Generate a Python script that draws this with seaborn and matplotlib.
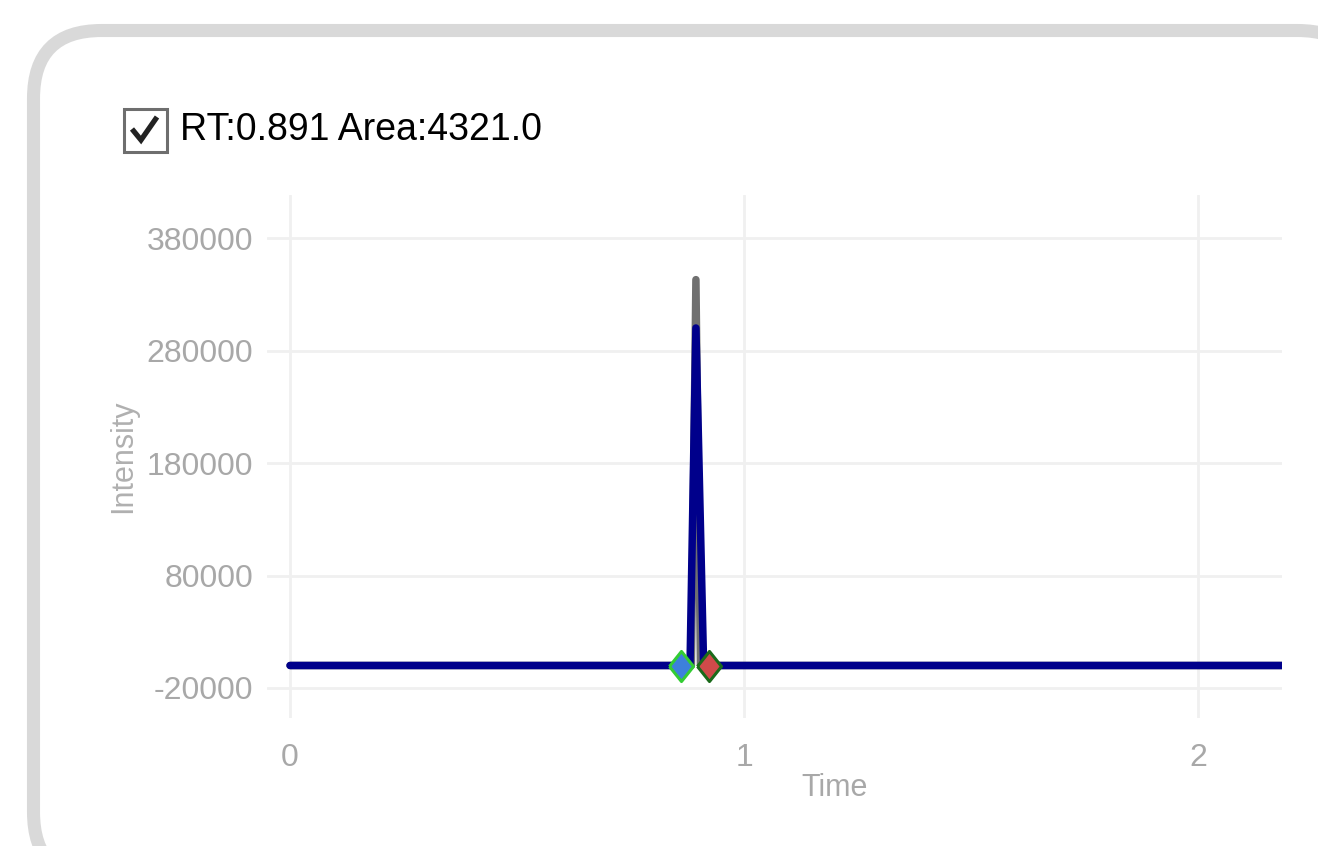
import matplotlib
matplotlib.use("Agg")
import matplotlib.pyplot as plt
import seaborn as sns
import pandas as pd
from matplotlib.patches import FancyBboxPatch, Rectangle
from matplotlib.lines import Line2D

# raw trace (grey) and smoothed trace (blue)
raw_time = [0.0, 0.884, 0.894, 0.904, 2.185]
raw_intensity = [0, 0, 343000, 0, 0]
smooth_time = [0.0, 0.881, 0.894, 0.911, 2.185]
smooth_intensity = [0, 0, 300000, 0, 0]

# peak boundaries
start_time = [0.861]
end_time = [0.923]
boundary_intensity = [0]

x_ticks = [0, 1, 2]
y_ticks = [-20000, 80000, 180000, 280000, 380000]
title = "RT:0.891 Area:4321.0"

raw = pd.DataFrame({"Time": raw_time, "Intensity": raw_intensity})
smooth = pd.DataFrame({"Time": smooth_time, "Intensity": smooth_intensity})

sns.set_theme(style="white")
plt.rcParams["font.family"] = ["Liberation Sans", "DejaVu Sans"]
plt.rcParams["axes.unicode_minus"] = False

fig = plt.figure(figsize=(13.18, 8.46), dpi=100)
ax = fig.add_axes([0.2026, 0.1513, 0.7701, 0.6182])

sns.lineplot(data=raw, x="Time", y="Intensity", ax=ax, color="#707070",
             linewidth=5.4, solid_joinstyle="round", zorder=2)
sns.lineplot(data=smooth, x="Time", y="Intensity", ax=ax, color="#00008B",
             linewidth=5.4, solid_joinstyle="round", zorder=3)

diamond = [(-1, 0), (0, 1.25), (1, 0), (0, -1.25), (-1, 0)]
sns.scatterplot(x=start_time, y=boundary_intensity, ax=ax, marker=diamond, s=470,
                color="#3d80dc", edgecolor="#33cc33", linewidth=2.2, zorder=4)
sns.scatterplot(x=end_time, y=boundary_intensity, ax=ax, marker=diamond, s=470,
                color="#cf4a4a", edgecolor="#1a6a1a", linewidth=2.2, zorder=4)

ax.set_xlim(-0.0507, 2.185)
ax.set_ylim(-46667, 418222)
ax.set_xticks(x_ticks)
ax.set_yticks(y_ticks)
ax.grid(True, color="#f0f0f0", linewidth=2.0)
for s in ax.spines.values():
    s.set_visible(False)
ax.tick_params(axis="both", length=0, labelsize=23, labelcolor="#a8a8a8")
ax.tick_params(axis="y", pad=10)
ax.tick_params(axis="x", pad=18)
ax.set_xlabel("Time", fontsize=22, color="#a8a8a8")
ax.set_ylabel("Intensity", fontsize=22, color="#b0b0b0")
ax.xaxis.set_label_coords(0.5596, -0.105)
ax.yaxis.set_label_coords(-0.127, 0.5)

# rounded panel frame (white face so the renderer does not clip the curves)
frame = FancyBboxPatch((0.335, -0.34), 13.32, 8.495,
                       boxstyle="round,pad=0,rounding_size=0.68",
                       transform=fig.dpi_scale_trans, facecolor="white",
                       edgecolor="#d9d9d9", linewidth=9.4, clip_on=False,
                       zorder=-1)
fig.add_artist(frame)

# checkbox + title
box = Rectangle((1.235, 6.945), 0.43, 0.43, transform=fig.dpi_scale_trans,
                facecolor="white", edgecolor="#6e6e6e", linewidth=2.2)
fig.add_artist(box)
tick_mark = Line2D([1.32, 1.41, 1.57], [7.17, 7.06, 7.29],
                   transform=fig.dpi_scale_trans, color="#222222",
                   linewidth=3.8, solid_joinstyle="miter", solid_capstyle="butt")
fig.add_artist(tick_mark)
fig.text(1.80, 7.165, title, transform=fig.dpi_scale_trans, ha="left",
         va="center", fontsize=27, color="black")

fig.savefig("out.png", dpi=100)
